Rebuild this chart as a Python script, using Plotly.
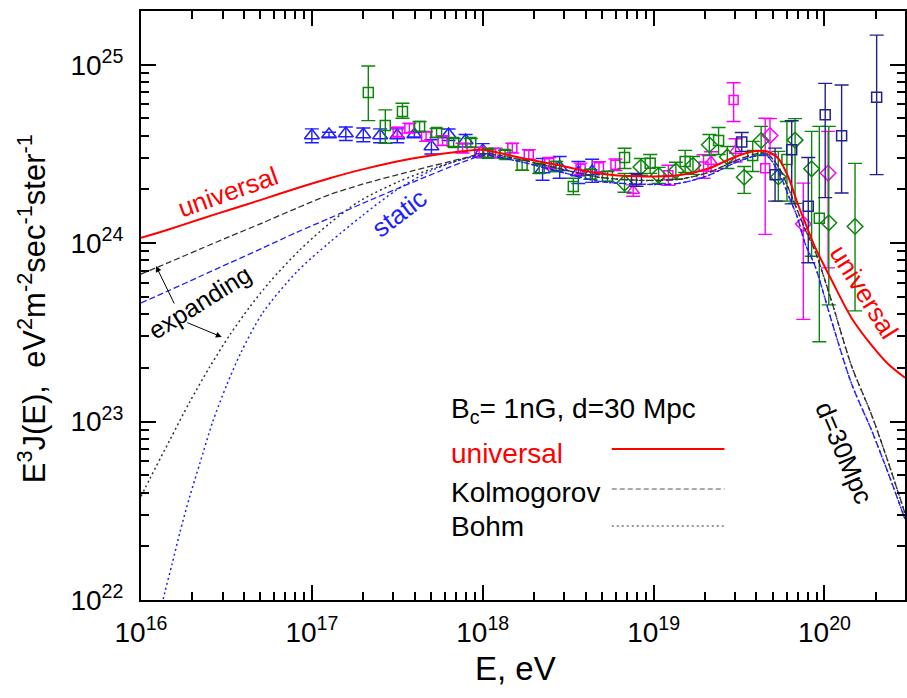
import math
import plotly.graph_objects as go

# ---------------- model curves: E [eV] and E^3 J(E) [eV^2 m^-2 s^-1 sr^-1] ----------------
E_low = [1.00e16, 1.48e16, 2.21e16, 3.31e16, 5.15e16, 8.15e16, 1.27e17, 1.98e17, 3.87e17, 7.59e17, 1.02e18]
E_high = [1.63e18, 2.79e18, 4.79e18, 8.19e18, 1.40e19, 2.10e19, 2.94e19, 3.84e19, 4.57e19,
          5.37e19, 6.15e19, 6.93e19, 7.69e19, 8.81e19, 1.10e20, 1.44e20, 1.88e20, 2.35e20, 2.96e20]

univ_low = [1.07e24, 1.20e24, 1.36e24, 1.54e24, 1.76e24, 2.03e24, 2.31e24, 2.59e24, 2.98e24, 3.27e24, 3.33e24]
univ_high = [3.02e24, 2.73e24, 2.46e24, 2.37e24, 2.40e24, 2.62e24, 3.02e24, 3.27e24, 3.27e24,
             2.98e24, 2.34e24, 1.69e24, 1.31e24, 0.950e24, 0.621e24, 0.381e24, 0.269e24, 0.211e24, 0.176e24]

kolm_exp_low = [6.71e23, 7.85e23, 9.25e23, 1.09e24, 1.30e24, 1.57e24, 1.87e24, 2.14e24, 2.54e24, 2.98e24, 3.18e24]
kolm_exp_high = [2.95e24, 2.62e24, 2.34e24, 2.25e24, 2.28e24, 2.49e24, 2.87e24, 3.14e24, 3.18e24,
                 2.69e24, 2.03e24, 1.53e24, 1.20e24, 0.902e24, 0.474e24, 0.205e24, 0.110e24, 0.0600e24, 0.0306e24]

kolm_st_low = [4.62e23, 5.46e23, 6.50e23, 7.75e23, 9.39e23, 1.15e24, 1.38e24, 1.67e24, 2.19e24, 2.84e24, 3.10e24]
kolm_st_high = [2.87e24, 2.52e24, 2.22e24, 2.14e24, 2.16e24, 2.40e24, 2.80e24, 3.06e24, 3.10e24,
                2.52e24, 1.85e24, 1.40e24, 1.00e24, 0.744e24, 0.367e24, 0.163e24, 0.0900e24, 0.0520e24, 0.0284e24]

E_bohm_exp = [1.00e16, 1.13e16, 1.48e16, 1.93e16, 2.53e16, 3.31e16, 4.33e16, 5.66e16, 8.48e16, 1.27e17, 1.90e17,
              3.25e17, 5.57e17, 1.02e18]
bohm_exp = [3.81e22, 4.81e22, 7.93e22, 1.29e23, 2.03e23, 3.06e23, 4.39e23, 6.05e23, 9.14e23, 1.29e24, 1.72e24,
            2.22e24, 2.69e24, 3.14e24]

E_bohm_st = [1.29e16, 1.38e16, 1.52e16, 1.69e16, 1.93e16, 2.21e16, 2.63e16, 3.18e16, 3.84e16, 5.15e16, 8.14e16,
             1.27e17, 1.98e17, 3.12e17, 4.87e17, 7.58e17, 1.02e18]
bohm_st = [0.836e22, 1.11e22, 1.59e22, 2.40e22, 3.81e22, 5.83e22, 1.00e23, 1.61e23, 2.43e23, 4.06e23, 6.89e23,
           1.01e24, 1.43e24, 1.98e24, 2.52e24, 2.95e24, 3.10e24]

# ---------------- measurements ----------------
# blue open triangles
tri_E = [1.00e17, 1.26e17, 1.58e17, 2.00e17, 2.51e17, 3.16e17, 3.98e17, 5.01e17, 6.31e17, 7.94e17, 1.00e18,
         2.24e18, 2.82e18, 3.63e18, 4.37e18]
tri_J = [4.01e24, 4.06e24, 4.12e24, 4.06e24, 4.01e24, 4.01e24, 4.06e24, 3.48e24, 4.06e24, 3.76e24, 3.31e24,
         2.59e24, 2.66e24, 2.49e24, 2.52e24]
tri_hi = [4.37e24, 4.18e24, 4.48e24, 4.42e24, 4.37e24, 4.37e24, 4.18e24, 3.80e24, 4.36e24, 4.06e24, 3.61e24,
          2.98e24, 3.06e24, 2.87e24, 2.95e24]
tri_lo = [3.65e24, 3.94e24, 3.76e24, 3.70e24, 3.65e24, 3.65e24, 3.94e24, 3.16e24, 3.76e24, 3.46e24, 3.01e24,
          2.25e24, 2.31e24, 2.16e24, 2.19e24]

# green open squares
gsq_E = [2.14e17, 2.69e17, 3.39e17, 4.27e17, 5.37e17, 6.76e17, 8.51e17, 1.07e18, 1.35e18, 1.70e18, 2.14e18,
         2.69e18, 3.39e18, 4.27e18, 5.37e18, 6.76e18, 9.55e18, 1.53e19, 2.40e19, 3.80e19, 6.03e19, 9.33e19]
gsq_J = [6.98e24, 4.56e24, 5.46e24, 4.51e24, 4.17e24, 3.66e24, 3.66e24, 3.19e24, 3.14e24, 2.73e24, 2.62e24,
         2.69e24, 2.08e24, 2.43e24, 2.37e24, 3.02e24, 2.80e24, 2.87e24, 3.76e24, 3.10e24, 2.94e24, 1.38e24]
gsq_hi = [9.84e24, 5.58e24, 6.08e24, 4.81e24, 4.39e24, 3.86e24, 3.86e24, 3.35e24, 3.31e24, 2.91e24, 2.76e24,
          2.87e24, 2.31e24, 2.59e24, 2.52e24, 3.40e24, 3.14e24, 3.31e24, 4.45e24, 3.72e24, 4.81e24, 4.51e24]
gsq_lo = [4.86e24, 3.63e24, 5.01e24, 4.23e24, 3.91e24, 3.48e24, 3.44e24, 3.02e24, 2.98e24, 2.56e24, 2.46e24,
          2.52e24, 1.87e24, 2.28e24, 2.22e24, 2.62e24, 2.46e24, 2.49e24, 3.14e24, 2.52e24, 1.72e24, 0.280e24]

# green open diamonds
gdm_E = [6.76e18, 8.43e18, 1.07e19, 1.35e19, 1.70e19, 2.12e19, 2.70e19, 3.39e19, 4.26e19, 5.37e19, 6.73e19,
         8.41e19, 1.06e20, 1.51e20]
gdm_J = [2.17e24, 2.67e24, 2.40e24, 2.54e24, 2.73e24, 3.56e24, 3.04e24, 2.34e24, 3.76e24, 2.35e24, 3.78e24,
         2.61e24, 1.30e24, 1.24e24]
gdm_hi = [2.46e24, 2.98e24, 2.66e24, 2.84e24, 3.06e24, 4.06e24, 3.48e24, 2.69e24, 4.51e24, 3.27e24, 4.99e24,
          4.23e24, 4.51e24, 2.80e24]
gdm_lo = [1.93e24, 2.40e24, 2.16e24, 2.28e24, 2.43e24, 3.10e24, 2.62e24, 1.90e24, 3.10e24, 1.72e24, 1.67e24,
          0.845e24, 0.451e24, 0.417e24]

# magenta open squares
msq_E = [3.18e17, 3.72e17, 4.66e17, 5.82e17, 7.62e17, 9.53e17, 1.19e18, 1.49e18, 1.86e18, 2.45e18, 3.74e18,
         4.79e18, 5.98e18, 1.22e19, 1.96e19, 2.94e19, 4.50e19]
msq_J = [4.19e24, 4.41e24, 3.96e24, 3.75e24, 3.41e24, 3.24e24, 3.20e24, 3.41e24, 3.13e24, 2.81e24, 2.61e24,
         2.66e24, 2.75e24, 2.40e24, 2.69e24, 6.35e24, 2.63e24]
msq_hi = [4.46e24, 4.70e24, 4.22e24, 4.00e24, 3.63e24, 3.45e24, 3.41e24, 3.63e24, 3.34e24, 3.02e24, 2.81e24,
          2.86e24, 2.96e24, 2.73e24, 3.13e24, 7.93e24, 5.01e24]
msq_lo = [3.93e24, 4.14e24, 3.72e24, 3.52e24, 3.20e24, 3.04e24, 3.00e24, 3.20e24, 2.94e24, 2.61e24, 2.42e24,
          2.47e24, 2.55e24, 2.11e24, 2.31e24, 4.81e24, 1.12e24]

# magenta open triangles
mtr_E = [7.59e18, 2.17e19, 3.02e19]
mtr_J = [1.97e24, 2.87e24, 3.31e24]
mtr_hi = [2.12e24, 3.25e24, 3.85e24]
mtr_lo = [1.83e24, 2.53e24, 2.85e24]

# magenta open diamonds
mdm_E = [4.80e19, 7.52e19, 1.05e20]
mdm_J = [4.01e24, 1.28e24, 2.47e24]
mdm_hi = [4.99e24, 2.17e24, 4.23e24]
mdm_lo = [3.14e24, 0.374e24, 0.727e24]

# navy open squares
nsq_E = [7.94e18, 3.28e19, 5.14e19, 6.43e19, 8.04e19, 1.01e20, 1.26e20, 2.02e20]
nsq_J = [2.27e24, 3.69e24, 2.42e24, 3.34e24, 1.61e24, 5.24e24, 4.00e24, 6.57e24]
nsq_hi = [2.46e24, 4.17e24, 3.41e24, 4.85e24, 3.02e24, 7.86e24, 7.70e24, 14.65e24]
nsq_lo = [2.08e24, 3.27e24, 1.72e24, 1.66e24, 0.776e24, 1.80e24, 1.91e24, 2.42e24]

# axis ticks
x_major = [1e16, 1e17, 1e18, 1e19, 1e20]
x_labels = ["10<sup>16</sup>", "10<sup>17</sup>", "10<sup>18</sup>", "10<sup>19</sup>", "10<sup>20</sup>"]
y_major = [1e22, 1e23, 1e24, 1e25]
y_labels = ["10<sup>22</sup>", "10<sup>23</sup>", "10<sup>24</sup>", "10<sup>25</sup>"]

RED, BLUE, BLACK = "#ff0000", "#1f1fff", "#000000"
GREEN, MAGENTA, NAVY = "#0b860b", "#ff00ff", "#22228c"
DASH, DOT = "6px,3px", "2px,3px"

# plot-area pixel frame, used to place the text labels
L, R, T, B = 141, 907, 11, 600
W, H = 907, 698


def px(x):
    return (x - L) / (R - L)


def py(y):
    return (B - y) / (B - T)


fig = go.Figure()


def data_series(E, J, hi, lo, symbol, color, size):
    fig.add_trace(go.Scatter(
        x=E, y=J, mode="markers",
        marker=dict(symbol=symbol, size=size, color=color, line=dict(color=color, width=1.5)),
        error_y=dict(type="data", symmetric=False,
                     array=[h - j for h, j in zip(hi, J)],
                     arrayminus=[j - l for j, l in zip(J, lo)],
                     color=color, thickness=1.4, width=7),
        hoverinfo="x+y"))


data_series(tri_E, tri_J, tri_hi, tri_lo, "triangle-up-open", BLUE, 13)
data_series(msq_E, msq_J, msq_hi, msq_lo, "square-open", MAGENTA, 9)
data_series(mtr_E, mtr_J, mtr_hi, mtr_lo, "triangle-up-open", MAGENTA, 11)
data_series(mdm_E, mdm_J, mdm_hi, mdm_lo, "diamond-open", MAGENTA, 12)
data_series(gsq_E, gsq_J, gsq_hi, gsq_lo, "square-open", GREEN, 10)
data_series(gdm_E, gdm_J, gdm_hi, gdm_lo, "diamond-open", GREEN, 12)
data_series(nsq_E, nsq_J, nsq_hi, nsq_lo, "square-open", NAVY, 10)


def curve(E, F, color, dash, width):
    fig.add_trace(go.Scatter(x=E, y=F, mode="lines",
                             line=dict(color=color, dash=dash, width=width, shape="spline", smoothing=0.8),
                             hoverinfo="skip"))


curve(E_bohm_st + E_high, bohm_st + kolm_st_high, BLUE, DOT, 1.5)
curve(E_bohm_exp + E_high, bohm_exp + kolm_exp_high, "#333333", DOT, 1.5)
curve(E_low + E_high, kolm_st_low + kolm_st_high, BLUE, DASH, 1.3)
curve(E_low + E_high, kolm_exp_low + kolm_exp_high, "#333333", DASH, 1.3)
curve(E_low + E_high, univ_low + univ_high, RED, "solid", 2)

FONT = "Liberation Sans, Arial, sans-serif"
tickfont = dict(family=FONT, size=28, color="black")
axis_common = dict(type="log", showline=True, linecolor="black", linewidth=2, mirror="ticks",
                   ticks="inside", ticklen=15, tickwidth=2, tickcolor="black",
                   showgrid=False, zeroline=False, tickfont=tickfont, tickmode="array")

x_minor = [m * 10.0 ** d for d in range(16, 21) for m in range(2, 10) if m * 10.0 ** d < 3e20]
y_minor = [m * 10.0 ** d for d in range(22, 26) for m in range(2, 10) if m * 10.0 ** d < 2e25]

fig.update_xaxes(range=[16, math.log10(2.96e20)], tickvals=x_major, ticktext=x_labels, ticklabelstandoff=6,
                 minor=dict(tickvals=x_minor, ticks="inside", ticklen=8, tickwidth=1.5, tickcolor="black",
                            showgrid=False),
                 **axis_common)
fig.update_yaxes(range=[22, math.log10(2.0e25)], tickvals=y_major, ticktext=y_labels, ticklabelstandoff=10,
                 minor=dict(tickvals=y_minor, ticks="inside", ticklen=8, tickwidth=1.5, tickcolor="black",
                            showgrid=False),
                 **axis_common)

labels = [
    # text, x px, y px, angle, color, size, anchor
    ("universal", 228, 192, -19.5, RED, 26, "center"),
    ("static", 400, 213, -37, BLUE, 26, "center"),
    ("expanding", 200, 302, -32, BLACK, 25, "center"),
    ("universal", 866, 292, 58, RED, 26, "center"),
    ("d=30Mpc", 846, 453, 67, BLACK, 26, "center"),
    ("B<sub>c</sub>= 1nG, d=30 Mpc", 450, 410, 0, BLACK, 28, "left"),
    ("universal", 450, 453, 0, RED, 28, "left"),
    ("Kolmogorov", 450, 492, 0, BLACK, 28, "left"),
    ("Bohm", 450, 526, 0, BLACK, 28, "left"),
    ("E, eV", 516, 668, 0, BLACK, 33, "center"),
    ("E<sup>3</sup>J(E),  eV<sup>2</sup>m<sup>-2</sup>sec<sup>-1</sup>ster<sup>-1</sup>", 32, 309, -90, BLACK, 31,
     "center"),
]
for text, x, y, ang, col, size, anchor in labels:
    fig.add_annotation(x=px(x), y=py(y), xref="paper", yref="paper", text=text, showarrow=False,
                       textangle=ang, xanchor=anchor, yanchor="middle",
                       font=dict(family=FONT, size=size, color=col))

# arrows from the "expanding" label to the expanding-universe curves (tail offsets in pixels)
for (hx, hy), (tx, ty) in [((156, 266), (175, 305)), ((222, 337), (186, 322))]:
    fig.add_annotation(x=px(hx), y=py(hy), xref="paper", yref="paper", ax=tx - hx, ay=ty - hy,
                       axref="pixel", ayref="pixel", text="", showarrow=True,
                       arrowhead=2, arrowsize=1.2, arrowwidth=1, arrowcolor="black")

# legend line samples
for y, col, dash, w in [(449, RED, "solid", 2), (489, "#555555", "5px,3px", 1.2), (526, "#333333", DOT, 1.2)]:
    fig.add_shape(type="line", xref="paper", yref="paper", x0=px(613), x1=px(726), y0=py(y), y1=py(y),
                  line=dict(color=col, dash=dash, width=w))

fig.update_layout(width=W, height=H, margin=dict(l=L, r=W - R, t=T, b=H - B),
                  plot_bgcolor="white", paper_bgcolor="white", showlegend=False,
                  font=dict(family=FONT, color="black"))

fig.write_html("out.html")
